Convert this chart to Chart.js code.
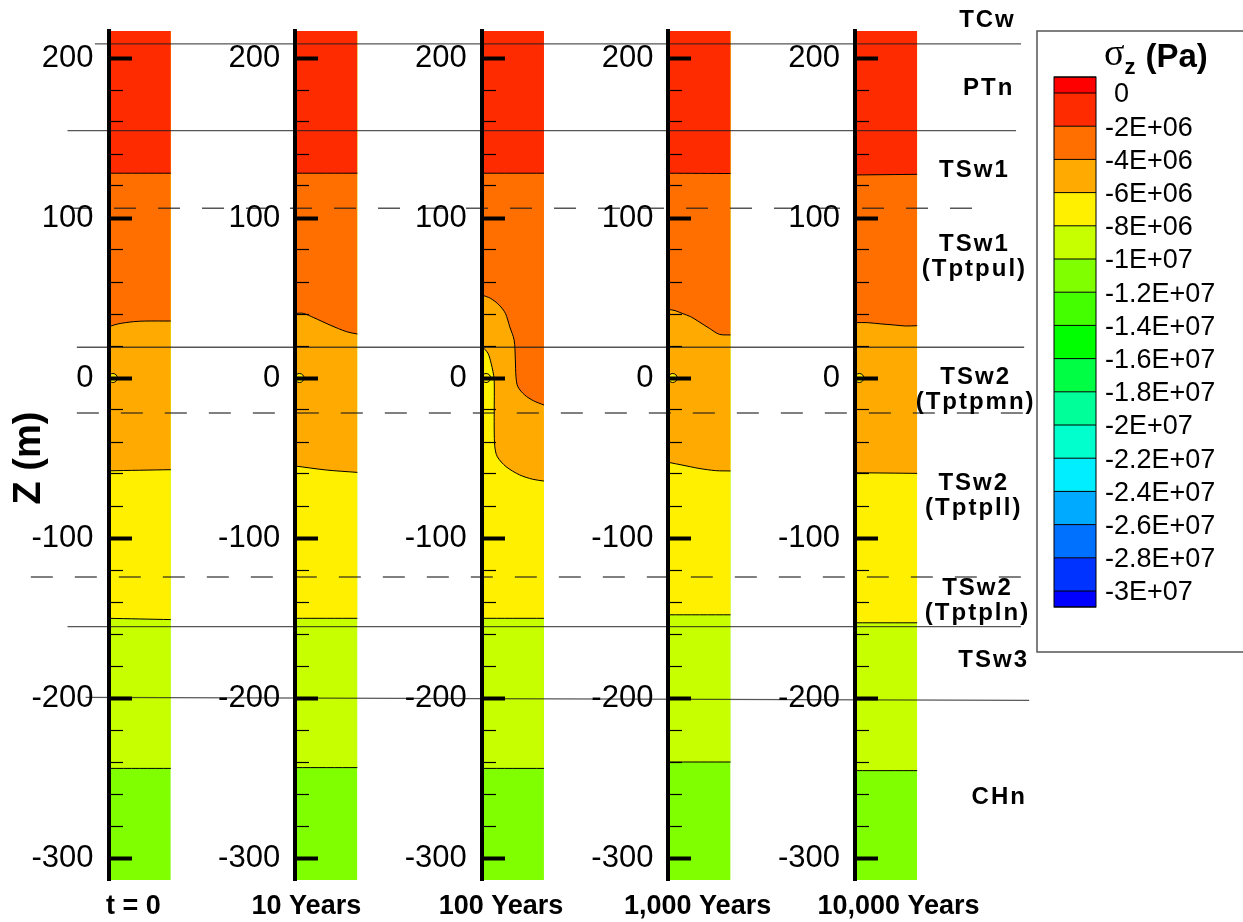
<!DOCTYPE html>
<html>
<head>
<meta charset="utf-8">
<title>Vertical stress profiles</title>
<script src="https://cdn.jsdelivr.net/npm/chart.js@4.4.0/dist/chart.umd.min.js"></script>
<style>
  html, body { margin: 0; padding: 0; background: #fff; }
  canvas { display: block; }
</style>
</head>
<body>
<canvas id="stress" width="1243" height="922"></canvas>
<script>
const FONT = "'Liberation Sans', Arial, Helvetica, sans-serif";

// --- DATA ---
const timeLabels = ['t = 0', '10 Years', '100 Years', '1,000 Years', '10,000 Years'];

// Elevation range of the profile columns (m)
const Z_MAX = 216.875;
const Z_MIN = -313.75;

// Contour lines of sigma_z in each column: [fraction across column, Z (m)]
const contour2E6 = [
    [[0, 128], [1, 128]],
    [[0, 128], [1, 128]],
    [[0, 128], [1, 128]],
    [[0, 128], [1, 127.8]],
    [[0, 126.9], [1, 127.3]]
];
const contour4E6 = [
    [[0, 32], [0.15, 33.8], [0.4, 35.2], [0.6, 35.6], [1, 35.6]],
    [[0, 40.4], [0.13, 40.4], [0.3, 37.7], [0.56, 33.1], [0.83, 28.9], [1, 27.5]],
    [[0, 51.9], [0.14, 49.8], [0.28, 45.6], [0.38, 40.4], [0.45, 32], [0.52, 23.8], [0.54, 11.3],
     [0.55, 0.8], [0.58, -5.4], [0.69, -10.6], [0.83, -14.2], [1, -16.9]],
    [[0, 42.9], [0.11, 42.1], [0.22, 40.4], [0.36, 38.3], [0.49, 35.2], [0.66, 31], [0.82, 27.3], [1, 26.9]],
    [[0, 34.6], [0.2, 34.6], [0.42, 33.8], [0.64, 33.1], [0.81, 32.5], [1, 32.7]]
];
const contour6E6 = [
    [[0, -58], [1, -57.3]],
    [[0, -55], [0.5, -57.5], [1, -59]],
    [[0, 20], [0.1, 15.4], [0.15, 9.2], [0.18, 4], [0.2, -1.3], [0.2, -22], [0.2, -32.5],
     [0.21, -43], [0.25, -49.2], [0.39, -55.4], [0.61, -60.6], [0.82, -63.3], [1, -64.4]],
    [[0, -52.7], [0.22, -54.4], [0.49, -56.5], [0.76, -57.9], [1, -58.1]],
    [[0, -59.2], [1, -59.6]]
];
const contour8E6 = [
    [[0, -150.2], [1, -151]],
    [[0, -150.2], [1, -150.2]],
    [[0, -150.2], [1, -150.2]],
    [[0, -148], [1, -148]],
    [[0, -153], [1, -153]]
];
const contour1E7 = [
    [[0, -244], [1, -244]],
    [[0, -243.5], [1, -243.5]],
    [[0, -244], [1, -244]],
    [[0, -240], [1, -240]],
    [[0, -245.4], [1, -245.4]]
];
const contourSets = [contour2E6, contour4E6, contour6E6, contour8E6, contour1E7];

// Drift centre elevation
const driftZ = 0;

// Hydrogeologic unit contacts, Z (m) at west and east end
const solidContacts = [[208.8, 208.8], [154.6, 154.6], [19.2, 19.2], [-155.4, -155.4], [-199.6, -201.5]];
const dashedContacts = [[106.1, 106.1], [-21.9, -21.9], [-124.4, -124.4]];

// Unit names and the elevation they are written at
const unitNames = ['TCw', 'PTn', 'TSw1', 'TSw1\n(Tptpul)', 'TSw2\n(Tptpmn)', 'TSw2\n(Tptpll)', 'TSw2\n(Tptpln)', 'TSw3', 'CHn'];
const unitLabelZ = [223.8, 180.8, 130, 75.6, -7.5, -73.4, -139, -176.3, -261.9];

// Colour legend
const legendLabels = ['0', '-2E+06', '-4E+06', '-6E+06', '-8E+06', '-1E+07', '-1.2E+07', '-1.4E+07',
    '-1.6E+07', '-1.8E+07', '-2E+07', '-2.2E+07', '-2.4E+07', '-2.6E+07', '-2.8E+07', '-3E+07'];
const legendColors = ['#ff0000', '#ff2b00', '#ff6f00', '#ffaa00', '#fff000', '#c8ff00', '#80ff00',
    '#44ff00', '#00ff00', '#00ff44', '#00ff99', '#00ffcc', '#00eeff', '#00aaff', '#0070ff', '#0033ff', '#0000ff'];

// --- LAYOUT ---
const COL_STEP = 3;   // x units between column axes, a column is 1 unit wide
const solidSpan = [[-0.22, 14.67], [-0.66, 14.59], [-0.51, 14.72], [-0.66, 14.67], [-0.37, 14.8]];
const dashedSpan = [[-0.62, 13.92], [-0.51, 14.8], [-1.25, 14.72]];
const unitLabelX = [14.13, 14.15, 13.92, 13.92, 13.94, 13.91, 13.97, 14.23, 14.32];
const timeLabelShift = [0.40, 0.18, 0.31, 0.47, 0.70];
const TIME_LABEL_Z = -330.5;

// --- DATASETS ---
const datasets = [];

timeLabels.forEach((_, c) => {
    const x0 = c * COL_STEP;
    // deepest band, fills the whole column first
    datasets.push({
        data: [{ x: x0, y: Z_MIN }, { x: x0 + 1, y: Z_MIN }],
        fill: 'end',
        backgroundColor: legendColors[contourSets.length + 1],
        borderWidth: 0,
        pointRadius: 0,
        order: 20
    });
    // each contour paints the band above it
    contourSets.forEach((level, k) => {
        datasets.push({
            data: level[c].map(([f, z]) => ({ x: x0 + f, y: z })),
            fill: 'end',
            backgroundColor: legendColors[k + 1],
            borderColor: '#000',
            borderWidth: 1,
            pointRadius: 0,
            tension: 0.3,
            order: k + 2
        });
    });
});

solidContacts.forEach((zz, i) => {
    datasets.push({
        data: [{ x: solidSpan[i][0], y: zz[0] }, { x: solidSpan[i][1], y: zz[1] }],
        borderColor: 'rgba(30,30,30,0.75)',
        borderWidth: 1.4,
        pointRadius: 0,
        fill: false,
        clip: false,
        order: 1
    });
});

dashedContacts.forEach((zz, i) => {
    datasets.push({
        data: [{ x: dashedSpan[i][0], y: zz[0] }, { x: dashedSpan[i][1], y: zz[1] }],
        borderColor: 'rgba(30,30,30,0.75)',
        borderWidth: 1.4,
        borderDash: [22, 22],
        pointRadius: 0,
        fill: false,
        clip: false,
        order: 1
    });
});

datasets.push({
    data: timeLabels.map((_, c) => ({ x: c * COL_STEP + 0.07, y: driftZ })),
    showLine: false,
    pointRadius: 4.5,
    backgroundColor: '#ffee00',
    borderColor: '#000',
    borderWidth: 1,
    order: 0
});

// --- AXES: one major and one minor Z axis on every column ---
const scales = {
    x: { type: 'linear', min: -1.657, max: 18.15, display: false },
    y: { type: 'linear', min: Z_MIN, max: Z_MAX, display: false }
};

timeLabels.forEach((_, c) => {
    scales['major' + c] = {
        axis: 'y',
        type: 'linear',
        min: Z_MIN,
        max: Z_MAX,
        position: { x: c * COL_STEP },
        border: { display: true, color: '#000', width: 4, z: 3 },
        grid: { z: 2, drawOnChartArea: false, drawTicks: true, tickLength: -25, tickWidth: 4, tickColor: '#000' },
        ticks: { stepSize: 100, includeBounds: false, autoSkip: false, display: false }
    };
    scales['minor' + c] = {
        axis: 'y',
        type: 'linear',
        min: Z_MIN,
        max: Z_MAX,
        position: { x: c * COL_STEP },
        border: { display: false },
        grid: { z: 1, drawOnChartArea: false, drawTicks: true, tickLength: -14, tickWidth: 1.2, tickColor: '#000' },
        ticks: { stepSize: 20, includeBounds: false, autoSkip: false, display: false }
    };
});

// --- TEXT: Z tick labels, unit names, time labels, axis title ---
const annotations = {
    id: 'annotations',
    afterDraw(chart) {
        const { ctx, scales: { x, y } } = chart;
        ctx.save();
        ctx.fillStyle = '#000';
        ctx.textBaseline = 'middle';

        // Z values beside each column axis
        ctx.textAlign = 'right';
        ctx.font = `31px ${FONT}`;
        timeLabels.forEach((_, c) => {
            const axis = chart.scales['major' + c];
            const px = x.getPixelForValue(c * COL_STEP) - 15;
            axis.ticks.forEach(t => ctx.fillText(String(t.value), px, axis.getPixelForValue(t.value)));
        });

        ctx.textAlign = 'center';
        ctx.font = `bold 24px ${FONT}`;
        ctx.letterSpacing = '2px';
        unitNames.forEach((name, i) => {
            const lines = name.split('\n');
            const cy = y.getPixelForValue(unitLabelZ[i]);
            const cx = x.getPixelForValue(unitLabelX[i]);
            lines.forEach((t, j) => {
                ctx.fillText(t, cx, cy + (j - (lines.length - 1) / 2) * 25);
            });
        });
        ctx.letterSpacing = '0px';

        ctx.font = `bold 27px ${FONT}`;
        timeLabels.forEach((t, c) => {
            ctx.fillText(t, x.getPixelForValue(c * COL_STEP + timeLabelShift[c]), y.getPixelForValue(TIME_LABEL_Z));
        });

        ctx.translate(30, 458);
        ctx.rotate(-Math.PI / 2);
        ctx.font = `bold 38px ${FONT}`;
        ctx.fillText('Z (m)', 0, 0);
        ctx.restore();
    }
};

// --- COLOUR BAR ---
const colorBar = {
    id: 'colorBar',
    afterDraw(chart) {
        const ctx = chart.ctx;
        const box = { left: 1037, top: 31, right: 1262, bottom: 652 };
        const bar = { left: 1054, right: 1096, top: 77, first: 93, step: 33.2, bottom: 607 };
        const edges = [bar.top, ...legendLabels.map((_, i) => bar.first + i * bar.step), bar.bottom];
        const w = bar.right - bar.left;

        ctx.save();
        ctx.strokeStyle = '#555';
        ctx.lineWidth = 1.5;
        ctx.strokeRect(box.left, box.top, box.right - box.left, box.bottom - box.top);

        legendColors.forEach((col, i) => {
            ctx.fillStyle = col;
            ctx.fillRect(bar.left, edges[i], w, edges[i + 1] - edges[i]);
        });
        ctx.strokeStyle = '#000';
        ctx.lineWidth = 1;
        edges.forEach(e => {
            ctx.beginPath();
            ctx.moveTo(bar.left, e);
            ctx.lineTo(bar.right, e);
            ctx.stroke();
        });
        ctx.strokeRect(bar.left, bar.top, w, bar.bottom - bar.top);

        ctx.fillStyle = '#000';
        ctx.textAlign = 'left';
        ctx.textBaseline = 'middle';
        ctx.font = `27px ${FONT}`;
        const minus = ctx.measureText('-').width;
        legendLabels.forEach((t, i) => {
            ctx.fillText(t, 1105 + (t.startsWith('-') ? 0 : minus), edges[i + 1] + 2);
        });

        // title: sigma_z (Pa)
        ctx.textBaseline = 'alphabetic';
        ctx.font = "38px 'Liberation Serif', 'DejaVu Serif', serif";
        ctx.fillText('\u03c3', 1104, 65);
        const sw = ctx.measureText('\u03c3').width;
        ctx.font = `bold 22px ${FONT}`;
        ctx.fillText('z', 1104 + sw, 74);
        const zw = ctx.measureText('z').width;
        ctx.font = `bold 33px ${FONT}`;
        ctx.fillText('(Pa)', 1104 + sw + zw + 10, 67);
        ctx.restore();
    }
};

Chart.defaults.font.family = FONT;

new Chart(document.getElementById('stress'), {
    type: 'line',
    data: { datasets },
    options: {
        responsive: false,
        animation: false,
        events: [],
        layout: { padding: { top: 31, bottom: 42, left: 0, right: 0 } },
        plugins: {
            legend: { display: false },
            tooltip: { enabled: false }
        },
        scales
    },
    plugins: [annotations, colorBar]
});
</script>
</body>
</html>
